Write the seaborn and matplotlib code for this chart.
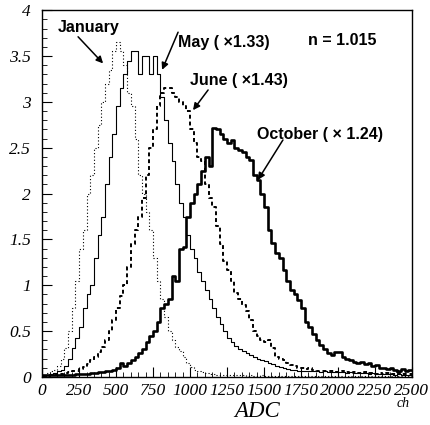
import numpy as np
import pandas as pd
import matplotlib.pyplot as plt
import seaborn as sns
from matplotlib.ticker import MultipleLocator

# bin centres in ADC channels (25 ch wide bins)
centers = np.arange(12.5, 2500, 25)

january = [0.02, 0.04, 0.06, 0.08, 0.12, 0.2, 0.32, 0.5,
           0.75, 1.05, 1.4, 1.6, 2.0, 2.2, 2.5, 2.75,
           3.0, 3.2, 3.35, 3.55, 3.65, 3.55, 3.4, 3.1,
           2.95, 2.6, 2.2, 2.0, 1.8, 1.6, 1.3, 1.05,
           0.85, 0.65, 0.5, 0.4, 0.33, 0.28, 0.22, 0.15,
           0.11, 0.08, 0.06, 0.05, 0.04, 0.03, 0.03, 0.02,
           0.02, 0.02, 0.02, 0.02, 0.02, 0.02, 0.02, 0.01,
           0.02, 0.01, 0.01, 0.02, 0.01, 0.01, 0.01, 0.01,
           0.01, 0.01, 0.01, 0.01, 0.01, 0.01, 0.01, 0.01,
           0.01, 0.01, 0.01, 0.01, 0.01, 0.01, 0.01, 0.01,
           0.01, 0.01, 0.01, 0.01, 0.01, 0.01, 0.01, 0.01,
           0.01, 0.01, 0.01, 0.01, 0.01, 0.01, 0.01, 0.01,
           0.01, 0.01, 0.01, 0.01]

may = [0.01, 0.02, 0.03, 0.04, 0.06, 0.08, 0.12, 0.2,
       0.32, 0.42, 0.55, 0.75, 0.9, 1.0, 1.3, 1.55,
       1.75, 2.1, 2.4, 2.65, 2.95, 3.15, 3.3, 3.45,
       3.55, 3.55, 3.3, 3.5, 3.5, 3.3, 3.5, 3.3,
       3.05, 2.8, 2.55, 2.35, 2.1, 1.9, 1.75, 1.55,
       1.4, 1.3, 1.15, 1.05, 0.95, 0.85, 0.75, 0.65,
       0.58, 0.5, 0.42, 0.38, 0.34, 0.3, 0.28, 0.26,
       0.24, 0.22, 0.2, 0.19, 0.17, 0.15, 0.14, 0.12,
       0.11, 0.1, 0.09, 0.08, 0.08, 0.07, 0.07, 0.07,
       0.06, 0.06, 0.06, 0.05, 0.06, 0.05, 0.05, 0.05,
       0.05, 0.05, 0.04, 0.05, 0.04, 0.04, 0.04, 0.04,
       0.03, 0.04, 0.03, 0.03, 0.03, 0.03, 0.03, 0.02,
       0.03, 0.02, 0.02, 0.02]

june = [0.01, 0.01, 0.02, 0.02, 0.03, 0.03, 0.04, 0.05,
        0.06, 0.07, 0.09, 0.11, 0.14, 0.18, 0.22, 0.27,
        0.33, 0.4, 0.5, 0.62, 0.75, 0.88, 1.0, 1.2,
        1.45, 1.6, 1.75, 1.95, 2.2, 2.5, 2.7, 2.95,
        3.1, 3.15, 3.15, 3.1, 3.05, 3.0, 2.95, 2.9,
        2.7, 2.55, 2.4, 2.35, 2.1, 1.95, 1.85, 1.65,
        1.45, 1.27, 1.17, 1.05, 0.92, 0.85, 0.78, 0.72,
        0.62, 0.5, 0.45, 0.4, 0.38, 0.4, 0.32, 0.22,
        0.2, 0.18, 0.15, 0.13, 0.12, 0.1, 0.1, 0.09,
        0.1, 0.08, 0.07, 0.07, 0.06, 0.07, 0.06, 0.05,
        0.05, 0.06, 0.05, 0.04, 0.05, 0.04, 0.04, 0.05,
        0.04, 0.04, 0.03, 0.04, 0.03, 0.04, 0.03, 0.03,
        0.04, 0.03, 0.03, 0.03]

october = [0.02, 0.02, 0.02, 0.02, 0.02, 0.02, 0.02, 0.02,
           0.02, 0.03, 0.03, 0.03, 0.03, 0.04, 0.04, 0.05,
           0.05, 0.06, 0.07, 0.08, 0.1, 0.15, 0.12, 0.15,
           0.18, 0.22, 0.26, 0.3, 0.38, 0.45, 0.5, 0.6,
           0.75, 0.8, 0.85, 1.1, 1.05, 1.4, 1.42, 1.75,
           1.9, 2.0, 2.1, 2.25, 2.4, 2.3, 2.72, 2.7,
           2.65, 2.6, 2.55, 2.58, 2.5, 2.47, 2.45, 2.4,
           2.37, 2.2, 2.15, 2.0, 1.85, 1.6, 1.46, 1.35,
           1.3, 1.17, 1.05, 0.95, 0.9, 0.84, 0.75, 0.6,
           0.55, 0.47, 0.4, 0.35, 0.3, 0.26, 0.24, 0.27,
           0.27, 0.22, 0.2, 0.18, 0.16, 0.15, 0.16, 0.14,
           0.15, 0.12, 0.13, 0.1, 0.1, 0.09, 0.1, 0.08,
           0.07, 0.09, 0.07, 0.08]

sns.set_style("ticks", {"text.color": "black", "axes.edgecolor": "black",
                        "xtick.color": "black", "ytick.color": "black",
                        "axes.labelcolor": "black"})
fig = plt.figure(figsize=(4.3, 4.25), dpi=100)
ax = fig.add_axes([0.098, 0.113, 0.86, 0.863])

series = [
    (january, (0, (1, 2)), 0.8),
    (may, "-", 0.8),
    (june, (0, (2, 1.5)), 1.4),
    (october, "-", 1.9),
]
for vals, ls, lw in series:
    df = pd.DataFrame({"adc": centers, "w": vals})
    sns.histplot(data=df, x="adc", weights="w", binwidth=25, binrange=(0, 2500),
                 element="step", fill=False, color="black", linestyle=ls,
                 linewidth=lw, ax=ax)

ax.set_xlim(0, 2500)
ax.set_ylim(0, 4)
ax.xaxis.set_major_locator(MultipleLocator(250))
ax.xaxis.set_minor_locator(MultipleLocator(50))
ax.yaxis.set_major_locator(MultipleLocator(0.5))
ax.yaxis.set_minor_locator(MultipleLocator(0.1))
ax.tick_params(which="both", direction="in", top=False, right=False)
ax.tick_params(which="major", length=7)
ax.tick_params(which="minor", length=3.5)
ax.tick_params(axis="y", pad=8)
ax.tick_params(axis="x", pad=4)
for s in ax.spines.values():
    s.set_linewidth(1.0)

tickfont = {"family": "Liberation Serif", "style": "italic", "size": 12.5}
ax.set_xticks(np.arange(0, 2501, 250))
ax.set_xticklabels([str(v) for v in range(0, 2501, 250)], fontdict=tickfont)
ylabels = ["0", "0.5", "1", "1.5", "2", "2.5", "3", "3.5", "4"]
ax.set_yticks(np.arange(0, 4.01, 0.5))
ax.set_yticklabels(ylabels, fontdict=tickfont)
ax.set_xlabel("")
ax.set_ylabel("")
fig.text(0.598, 0.019, "ADC", family="Liberation Serif", style="italic",
         fontsize=16.5, ha="center", va="baseline")
fig.text(0.953, 0.042, "ch", family="Liberation Serif", style="italic",
         fontsize=10, ha="right", va="baseline")

lab = {"family": "Liberation Sans", "weight": "bold", "size": 11.5}
arrow = dict(arrowstyle="-|>", color="black", lw=1.1, mutation_scale=10,
             shrinkA=0, shrinkB=0)

ax.text(108, 3.76, "January", **lab, ha="left", va="baseline")
ax.annotate("", xy=(412, 3.42), xytext=(243, 3.71), arrowprops=arrow)

ax.text(919, 3.60, "May ( ×1.33)", **lab, ha="left", va="baseline")
ax.annotate("", xy=(811, 3.35), xytext=(919, 3.76), arrowprops=arrow)

ax.text(1797, 3.62, "n = 1.015", **lab, ha="left", va="baseline")

ax.text(1000, 3.18, "June ( ×1.43)", **lab, ha="left", va="baseline")
ax.annotate("", xy=(1020, 2.91), xytext=(1122, 3.13), arrowprops=arrow)

ax.text(1453, 2.60, "October ( × 1.24)", **lab, ha="left", va="baseline")
ax.annotate("", xy=(1459, 2.15), xytext=(1628, 2.585), arrowprops=arrow)

fig.savefig("out.png", dpi=100)
